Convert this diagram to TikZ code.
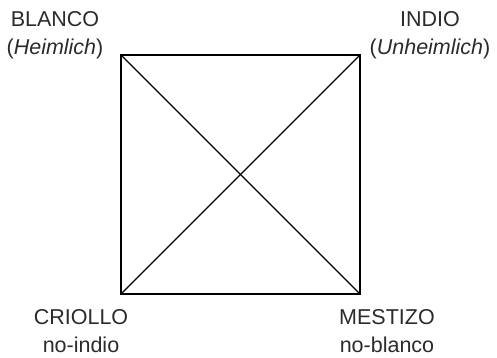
\documentclass[tikz,border=0pt]{standalone}
\usepackage{fontspec}
\setmainfont{Liberation Sans}
\usetikzlibrary{positioning}
\definecolor{txtgray}{HTML}{2B2B2B}

\begin{document}
\begin{tikzpicture}[
            x=1pt, y=-1pt,
            % ----- Styles -----
                lbl/.style={
                    align=center, text=txtgray, inner sep=0pt,
                    font=\fontsize{21.5}{28}\selectfont
                },
                frame/.style={line width=2pt, line join=miter},
                diag/.style={line width=1.3pt}
            ]
                \useasboundingbox (0,0) rectangle (497,358);

% ===================== Ecken des Quadrats ======================
                \coordinate (tl) at (121, 55);
                \coordinate (tr) at (360, 55);
                \coordinate (bl) at (121, 294);
                \coordinate (br) at (360, 294);

% ===================== Beschriftungen ==========================
                \node[lbl] (blanco)  at (55,  35)  {BLANCO\\(\textit{Heimlich})};
                \node[lbl] (indio)   at (430, 35)  {INDIO\\(\textit{Unheimlich})};
                \node[lbl] (criollo) at (81,  331) {CRIOLLO\\no-indio};
                \node[lbl] (mestizo) at (387, 331) {MESTIZO\\no-blanco};

% ===================== Quadrat und Diagonalen ==================
                \draw[frame] (tl) -- (tr) -- (br) -- (bl) -- cycle;
                \draw[diag] (tl) -- (br);
                \draw[diag] (tr) -- (bl);

            \end{tikzpicture}
\end{document}
